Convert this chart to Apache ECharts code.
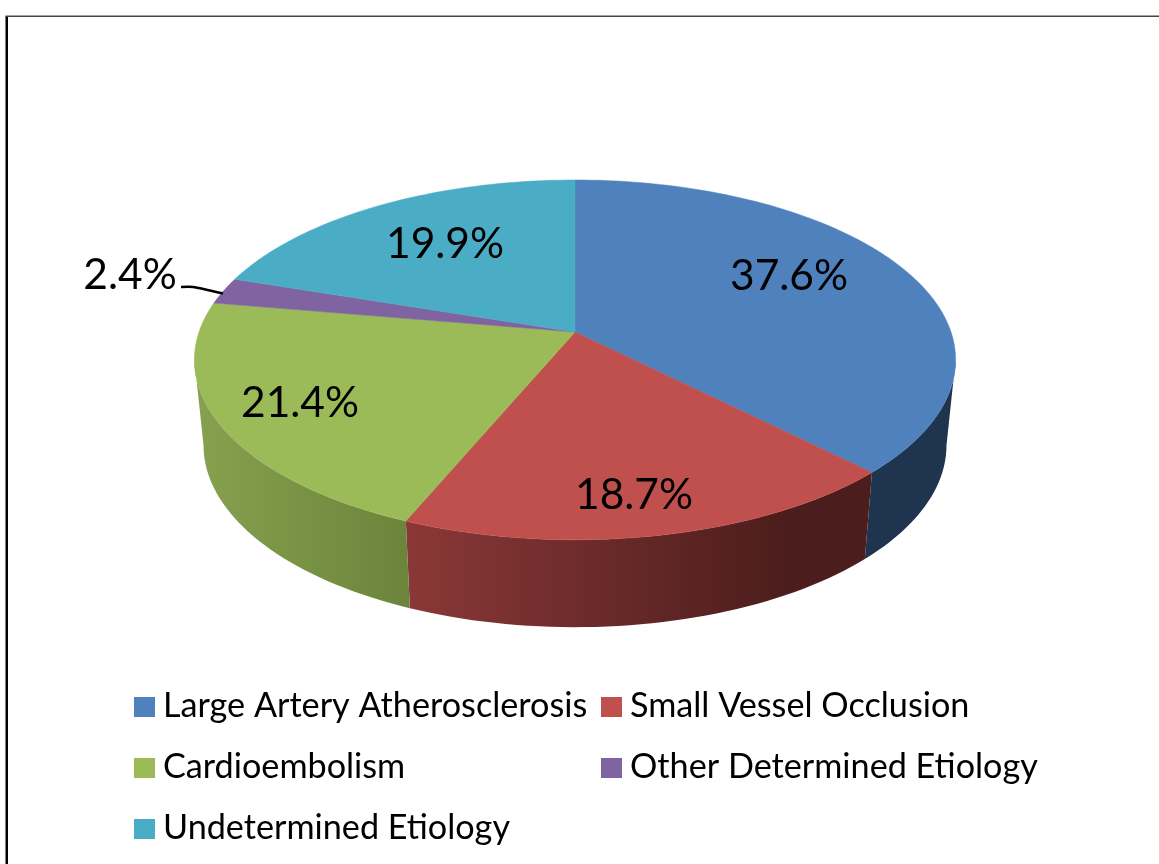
<!DOCTYPE html>
<html>
<head>
<meta charset="utf-8">
<title>Stroke etiology</title>
<style>
  html,body{margin:0;padding:0;background:#fff;}
  #chartCover{width:1159px;height:864px;}
</style>
<script src="https://cdn.jsdelivr.net/npm/echarts@6/dist/echarts.min.js"></script>
</head>
<body>
<div id="chartCover"></div>
<script>
  var categories = ["Large Artery Atherosclerosis","Small Vessel Occlusion","Cardioembolism","Other Determined Etiology","Undetermined Etiology"];
  var percents = [37.6,18.7,21.4,2.4,19.9];
  var colors = ['#4f81bd','#c0504d','#9bbb59','#8064a2','#4bacc6'];

  // side wall shading, left to right
  var wallColors = [
    ['#1e344f','#1e344f'],
    ['#8a3837','#4b1d1c'],
    ['#86a14f','#6b843b'],
    ['#5a4672','#5a4672'],
    ['#35788b','#35788b']
  ];
  var wallRange = [[860,960],[406,790],[195,410],[200,300],[230,580]];

  // label centres and legend places, not data
  var labelSpots = [[789,276.5],[634,495.5],[300,403.5],[130,275],[445,244.5]];
  var legendSpots = [[134,689],[601,689],[134,750],[601,750],[134,811]];

  var FONT = 'Lato';
  var K = 0.155;   //perspective
  var topDisc = {cx:575,cy:332,a:376,b:175.6};
  var baseDisc = {cx:575,cy:417,a:367,b:177.6};
  // the wall is only seen between these two angles
  var wallFrom = 98.9;
  var wallTo = 261.1;

  function project(disc,deg){
    var r = deg*Math.PI/180;
    var u = Math.sin(r), v = Math.cos(r), w = 1+K*v;
    return [disc.cx+disc.a*u/w, disc.cy-disc.b*v/w];
  }

  function arc(disc,from,to){
    var pts = [];
    var n = Math.max(2,Math.ceil((to-from)/1.5));
    for(var i=0;i<=n;i++){
      pts.push(project(disc,from+(to-from)*i/n));
    }
    return pts;
  }

  function startOf(index){
    var sum = 0;
    for(var i=0;i<index;i++){
      sum += percents[i];
    }
    return sum*3.6;
  }

  function sliceRender(index){
    return function(params,api){
      var from = startOf(index);
      var to = from+api.value(0)*3.6;
      var children = [{
        type:'polygon',
        z2:2,
        shape:{points:[[topDisc.cx,topDisc.cy]].concat(arc(topDisc,from,to))},
        style:{fill:colors[index],stroke:colors[index],lineWidth:0.5}
      },{
        type:'text',
        z2:3,
        style:{
          x:labelSpots[index][0],
          y:labelSpots[index][1],
          text:api.value(0).toFixed(1)+'%',
          fill:'#000',
          font:'42.5px '+FONT,
          align:'center',
          verticalAlign:'middle'
        }
      }];
      var wallA = Math.max(from,wallFrom);
      var wallB = Math.min(to,wallTo);
      if(wallB>wallA){
        children.push({
          type:'polygon',
          z2:1,
          shape:{points:arc(topDisc,wallA,wallB).concat(arc(baseDisc,wallA,wallB).reverse())},
          style:{
            fill:new echarts.graphic.LinearGradient(wallRange[index][0],0,wallRange[index][1],0,[
              {offset:0,color:wallColors[index][0]},
              {offset:1,color:wallColors[index][1]}
            ],true)
          }
        });
      }
      if(index==3){
        children.push({
          type:'polyline',
          z2:3,
          shape:{points:[[181,287],[193,287],[223,293.5]],smooth:0.2},
          style:{stroke:'#000',lineWidth:2.4,fill:null}
        });
      }
      return {type:'group',children:children};
    };
  }

  var series = new Array();
  var legends = new Array();
  categories.forEach((name,i) =>{
    series.push({
      name:name,
      type:'custom',
      coordinateSystem:'none',
      renderItem:sliceRender(i),
      data:[[percents[i]]],
      itemStyle:{color:colors[i]},
      silent:true
    });
    legends.push({
      data:[name],
      left:legendSpots[i][0],
      top:legendSpots[i][1],
      padding:0,
      icon:'rect',
      itemWidth:21,
      itemHeight:20,
      selectedMode:false,
      formatter:'{t|{name}}',
      textStyle:{
        rich:{
          t:{fontFamily:FONT,fontSize:34.2,color:'#000',padding:[0,0,2,3]}   //lifts the text level with the box
        }
      }
    });
  });

  var chartOption = {
    animation:false,
    backgroundColor:'#fff',
    color:colors,
    legend:legends,
    graphic:[
      {type:'rect',shape:{x:5.5,y:16,width:2.5,height:848},style:{fill:'#000'}},
      {type:'rect',shape:{x:5.5,y:15.5,width:1153.5,height:1.5},style:{fill:'#444'}}
    ],
    series:series
  };

  var myChart = echarts.init(document.getElementById("chartCover"));
  myChart.setOption(chartOption,true);
</script>
</body>
</html>
